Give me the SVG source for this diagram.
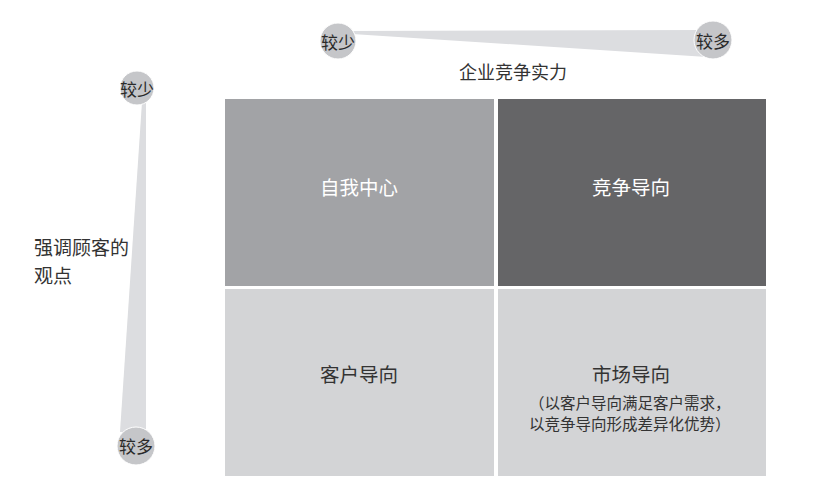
<svg xmlns="http://www.w3.org/2000/svg" width="830" height="490" viewBox="0 0 830 490">
<style>
text{font-family:"Noto Sans CJK SC","Noto Sans",sans-serif;}
.band{fill:#dcdde0;}
.dot{fill:#c5c6c9;stroke:#ffffff;stroke-width:1;}
.tick{font-size:17px;fill:#2a2a2a;text-anchor:middle;dominant-baseline:central;}
.lab{font-size:18px;fill:#333333;}
.q{font-size:19.5px;text-anchor:middle;dominant-baseline:central;}
.sub{font-size:15.5px;fill:#333333;}
</style>
<rect width="830" height="490" fill="#ffffff"/>
<g id="axis-x">
<polygon class="band" points="352,31 705,30 707,57 352,34"/>
<g id="x-less"><circle class="dot" cx="338" cy="41" r="18"/><text class="tick" x="338" y="41">较少</text></g>
<g id="x-more"><circle class="dot" cx="713" cy="40" r="19"/><text class="tick" x="713" y="40">较多</text></g>
<text class="lab" x="513" y="79" text-anchor="middle">企业竞争实力</text>
</g>
<g id="axis-y">
<polygon class="band" points="142,102 146,102 146,432 120,432"/>
<g id="y-less"><circle class="dot" cx="137" cy="88" r="17"/><text class="tick" x="137" y="88">较少</text></g>
<g id="y-more"><circle class="dot" cx="136" cy="446" r="19"/><text class="tick" x="136" y="445">较多</text></g>
<text class="lab" x="34" y="255" style="font-size:19px">强调顾客的</text>
<text class="lab" x="34" y="283" style="font-size:19px">观点</text>
</g>
<g id="q1"><rect x="225" y="99" width="269" height="187" fill="#a2a3a6"/><text class="q" x="359" y="186" fill="#ffffff">自我中心</text></g>
<g id="q2"><rect x="498" y="99" width="268" height="187" fill="#656567"/><text class="q" x="631" y="186" fill="#ffffff">竞争导向</text></g>
<g id="q3"><rect x="225" y="289" width="269" height="187" fill="#d3d4d6"/><text class="q" x="359" y="373" fill="#333333">客户导向</text></g>
<g id="q4"><rect x="498" y="289" width="268" height="187" fill="#d3d4d6"/><text class="q" x="631" y="373" fill="#333333">市场导向</text>
<text class="sub" x="529" y="409">（以客户导向满足客户需求，</text>
<text class="sub" x="529" y="430">以竞争导向形成差异化优势）</text></g>
</svg>
